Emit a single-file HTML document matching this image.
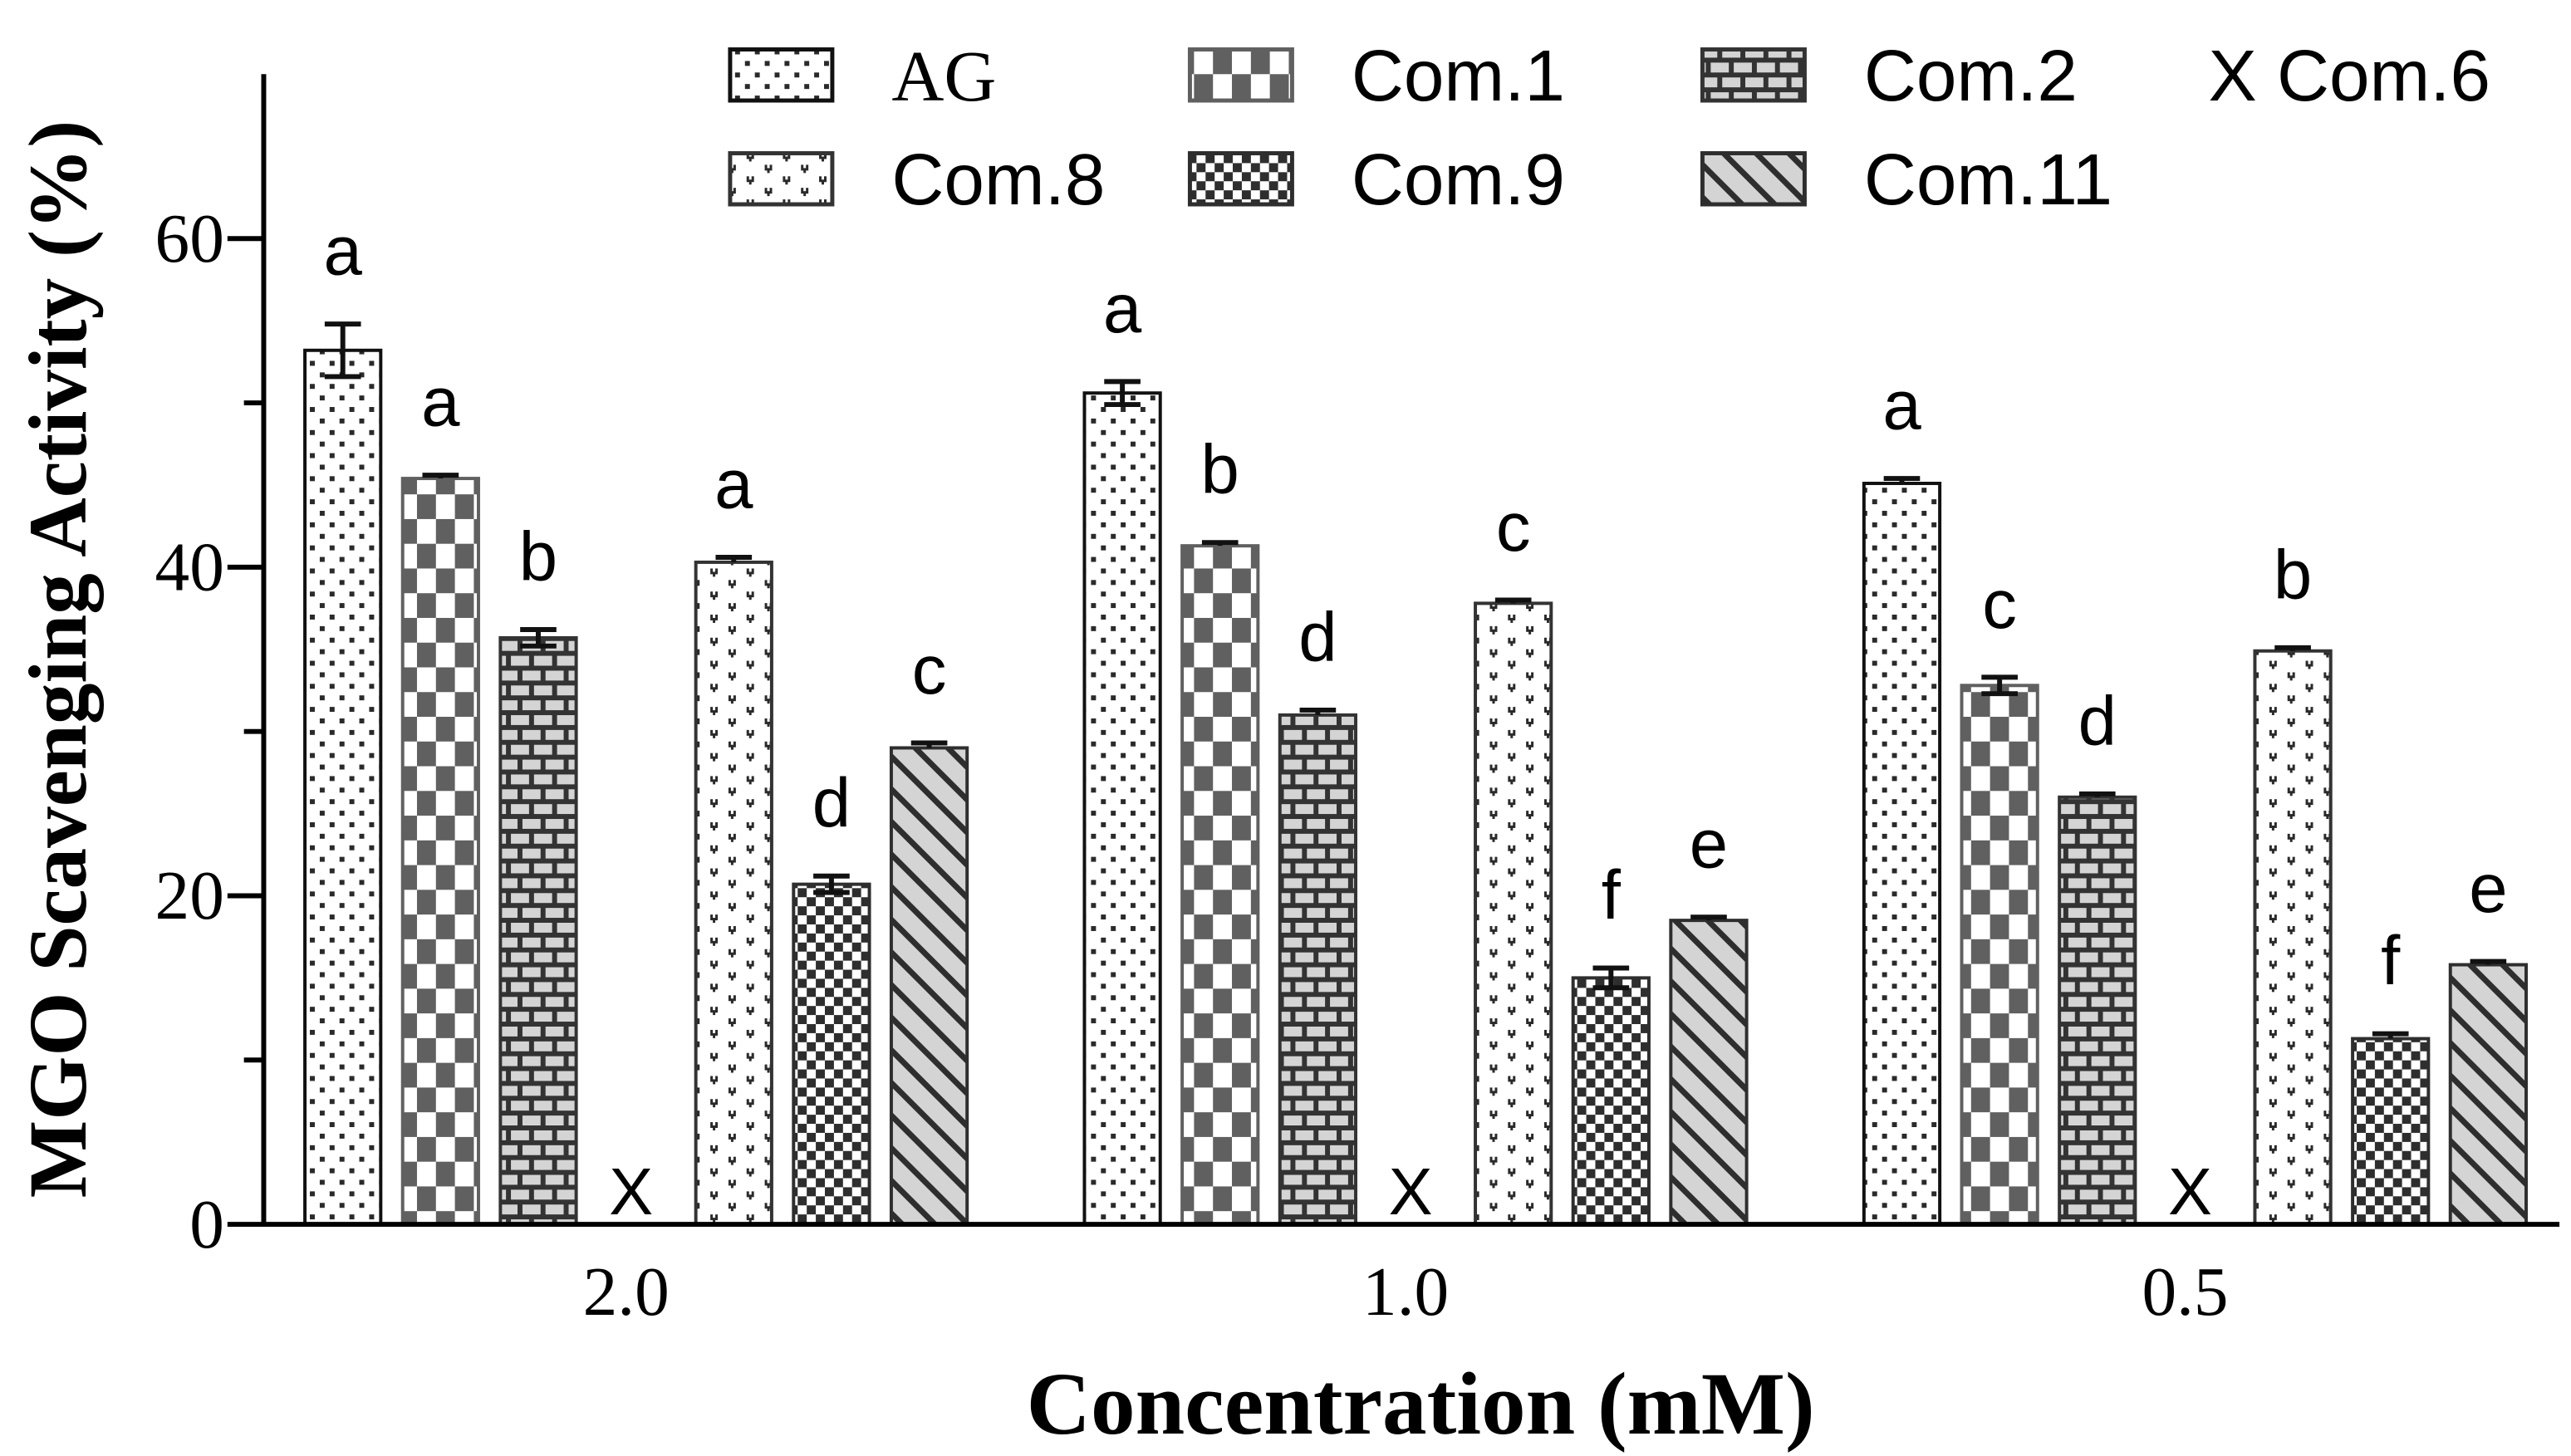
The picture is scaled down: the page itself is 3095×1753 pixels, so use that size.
<!DOCTYPE html>
<html><head><meta charset="utf-8">
<style>
html,body{margin:0;padding:0;background:#fff;}
svg{display:block;}
</style></head>
<body>
<svg id="chart" width="3095" height="1753" viewBox="0 0 1560 883.6" xmlns="http://www.w3.org/2000/svg">
<defs>
  <pattern id="p-ag" width="12" height="14" patternUnits="userSpaceOnUse">
    <rect width="12" height="14" fill="#fff"/>
    <rect x="2" y="2" width="3" height="3" fill="#2a2a2a"/>
    <rect x="8" y="9" width="3" height="3" fill="#2a2a2a"/>
  </pattern>
  <pattern id="p-c1" width="23" height="30" patternUnits="userSpaceOnUse">
    <rect width="23" height="30" fill="#fff"/>
    <rect x="0" y="0" width="11.5" height="15" fill="#606060"/>
    <rect x="11.5" y="15" width="11.5" height="15" fill="#606060"/>
  </pattern>
  <pattern id="p-c2" width="28" height="18" patternUnits="userSpaceOnUse">
    <rect width="28" height="18" fill="#333"/>
    <rect x="2" y="2" width="11" height="6" fill="#d4d4d4"/>
    <rect x="16" y="2" width="11" height="6" fill="#d4d4d4"/>
    <rect x="-5" y="11" width="11" height="6" fill="#d4d4d4"/>
    <rect x="9" y="11" width="11" height="6" fill="#d4d4d4"/>
    <rect x="23" y="11" width="11" height="6" fill="#d4d4d4"/>
  </pattern>
  <pattern id="p-c8" width="22" height="14" patternUnits="userSpaceOnUse">
    <rect width="22" height="14" fill="#fff"/>
    <path d="M2 2h1.5v2h1.5v-2h1.5v3.5h-1.5v1.5h-1.5v-1.5h-1.5z" fill="#2a2a2a"/>
    <path d="M13 9h1.5v2h1.5v-2h1.5v3.5h-1.5v1.5h-1.5v-1.5h-1.5z" fill="#2a2a2a"/>
  </pattern>
  <pattern id="p-c9" width="11" height="11" patternUnits="userSpaceOnUse">
    <rect width="11" height="11" fill="#fff"/>
    <rect x="0" y="0" width="5.5" height="5.5" fill="#2e2e2e"/>
    <rect x="5.5" y="5.5" width="5.5" height="5.5" fill="#2e2e2e"/>
  </pattern>
  <pattern id="p-c11" width="14" height="14" patternUnits="userSpaceOnUse" patternTransform="rotate(-45)">
    <rect width="14" height="14" fill="#d4d4d4"/>
    <rect x="0" y="0" width="3.5" height="14" fill="#2e2e2e"/>
  </pattern>
</defs>
<g id="plot"></g>
</svg>
<script>
const categories = ["2.0", "1.0", "0.5"];
const seriesNames = ["AG", "Com.1", "Com.2", "Com.6", "Com.8", "Com.9", "Com.11"];
const agValues    = [53.2, 50.6, 45.1];
const com1Values  = [45.4, 41.3, 32.8];
const com2Values  = [35.7, 31.0, 26.0];
const com6Values  = [null, null, null];
const com8Values  = [40.3, 37.8, 34.9];
const com9Values  = [20.7, 15.0, 11.3];
const com11Values = [29.0, 18.5, 15.8];
const agErr    = [1.6, 0.7, 0.3];
const com1Err  = [0.2, 0.2, 0.5];
const com2Err  = [0.5, 0.3, 0.2];
const com8Err  = [0.3, 0.2, 0.2];
const com9Err  = [0.5, 0.6, 0.3];
const com11Err = [0.3, 0.2, 0.2];
const agLetters    = ["a", "a", "a"];
const com1Letters  = ["a", "b", "c"];
const com2Letters  = ["b", "d", "d"];
const com8Letters  = ["a", "c", "b"];
const com9Letters  = ["d", "f", "f"];
const com11Letters = ["c", "e", "e"];
const yTicks = [0, 20, 40, 60];

const NS = "http://www.w3.org/2000/svg";
const plot = document.getElementById("plot");
const X0 = 160, X1 = 1553, Y0 = 743, YTOP = 45;
const yScale = v => Y0 - v * 9.97;
const groupStart = 185, groupPitch = 473, slotPitch = 59.3, barW = 46;
const xSlot = (g, s) => groupStart + g * groupPitch + s * slotPitch;

function el(tag, attrs, parent) {
  const e = document.createElementNS(NS, tag);
  for (const k in attrs) e.setAttribute(k, attrs[k]);
  (parent || plot).appendChild(e);
  return e;
}
function txt(str, attrs, parent) { const t = el("text", attrs, parent); t.textContent = str; return t; }

const series = [
  {vals: agValues, err: agErr, let: agLetters, fill: "url(#p-ag)", stroke: "#111"},
  {vals: com1Values, err: com1Err, let: com1Letters, fill: "url(#p-c1)", stroke: "#606060"},
  {vals: com2Values, err: com2Err, let: com2Letters, fill: "url(#p-c2)", stroke: "#333"},
  {vals: com6Values, err: null, let: null, fill: "none", stroke: "none"},
  {vals: com8Values, err: com8Err, let: com8Letters, fill: "url(#p-c8)", stroke: "#333"},
  {vals: com9Values, err: com9Err, let: com9Letters, fill: "url(#p-c9)", stroke: "#2e2e2e"},
  {vals: com11Values, err: com11Err, let: com11Letters, fill: "url(#p-c11)", stroke: "#2e2e2e"}
];

categories.forEach((c, g) => {
  series.forEach((s, si) => {
    const x = xSlot(g, si);
    const v = s.vals[g];
    if (v === null) {
      const t = txt("X", {x: x + barW / 2 - 3, y: Y0 - 6, "font-family": "Liberation Sans, sans-serif", "font-size": 40, "text-anchor": "middle", fill: "#000"});
      
      
      return;
    }
    const top = yScale(v);
    const r = el("rect", {x: x, y: top, width: barW, height: Y0 - top, fill: s.fill, stroke: s.stroke, "stroke-width": 2});
    
    
    const eTop = yScale(v + s.err[g]);
    const cx = x + barW / 2;
    const eb = el("path", {d: `M${cx} ${top} V${eTop} M${cx - 11} ${eTop} H${cx + 11}` + (s.err[g] > 0.4 ? ` M${cx - 11} ${yScale(v - s.err[g])} H${cx + 11} M${cx} ${top} V${yScale(v - s.err[g])}` : ''), stroke: "#111", "stroke-width": 3, fill: "none"});
    
    
    const lt = txt(s.let[g], {x: cx, y: eTop - 30, "font-family": "Liberation Sans, sans-serif", "font-size": 42, "text-anchor": "middle", fill: "#000"});
    
    
  });
  const cl = txt(c, {x: xSlot(g, 3) + barW / 2 - 6, y: 798, "font-family": "Liberation Serif, serif", "font-size": 42, "text-anchor": "middle", fill: "#000"});
  
  
});

// axes
const ax = el("path", {d: `M${X0} ${YTOP} V${Y0} H${X1}`, stroke: "#000", "stroke-width": 3, fill: "none"});


yTicks.forEach(t => {
  const y = yScale(t);
  const tk = el("line", {x1: X0 - 22, x2: X0, y1: y, y2: y, stroke: "#000", "stroke-width": 3});
  
  
  const tl = txt(String(t), {x: X0 - 24, y: y + 14, "font-family": "Liberation Serif, serif", "font-size": 42, "text-anchor": "end", fill: "#000"});
  
  
});
for (let i = 0; i < 3; i++) {
  const y = yScale(10 + 20 * i);
  const mt = el("line", {x1: X0 - 12, x2: X0, y1: y, y2: y, stroke: "#000", "stroke-width": 3});
  
  
}
const yt = txt("MGO Scavenging Activity (%)", {x: 0, y: 0, transform: "translate(52 400) rotate(-90)", "font-family": "Liberation Serif, serif", "font-weight": "bold", "font-size": 50, "text-anchor": "middle", fill: "#000"});


const xt = txt("Concentration (mM)", {x: 862, y: 870, "font-family": "Liberation Serif, serif", "font-weight": "bold", "font-size": 54, "text-anchor": "middle", fill: "#000"});



// legend
const legendItems = [
  {label: "AG", x: 443, y: 30, fill: "url(#p-ag)", stroke: "#111", serif: true},
  {label: "Com.1", x: 722, y: 30, fill: "url(#p-c1)", stroke: "#606060"},
  {label: "Com.2", x: 1033, y: 30, fill: "url(#p-c2)", stroke: "#333"},
  {label: "Com.8", x: 443, y: 93, fill: "url(#p-c8)", stroke: "#333"},
  {label: "Com.9", x: 722, y: 93, fill: "url(#p-c9)", stroke: "#2e2e2e"},
  {label: "Com.11", x: 1033, y: 93, fill: "url(#p-c11)", stroke: "#2e2e2e"}
];
legendItems.forEach(it => {
  const g = el("g", {});
  
  
  el("rect", {x: it.x, y: it.y, width: 62, height: 31, fill: it.fill, stroke: it.stroke, "stroke-width": 2.5}, g);
  txt(it.label, {x: it.x + 98, y: it.y + 31, "font-family": it.serif ? "Liberation Serif, serif" : "Liberation Sans, sans-serif", "font-size": 44, fill: "#000"}, g);
});
const l6 = txt("X Com.6", {x: 1340, y: 61, "font-family": "Liberation Sans, sans-serif", "font-size": 44, fill: "#000"});


</script>
</body></html>
